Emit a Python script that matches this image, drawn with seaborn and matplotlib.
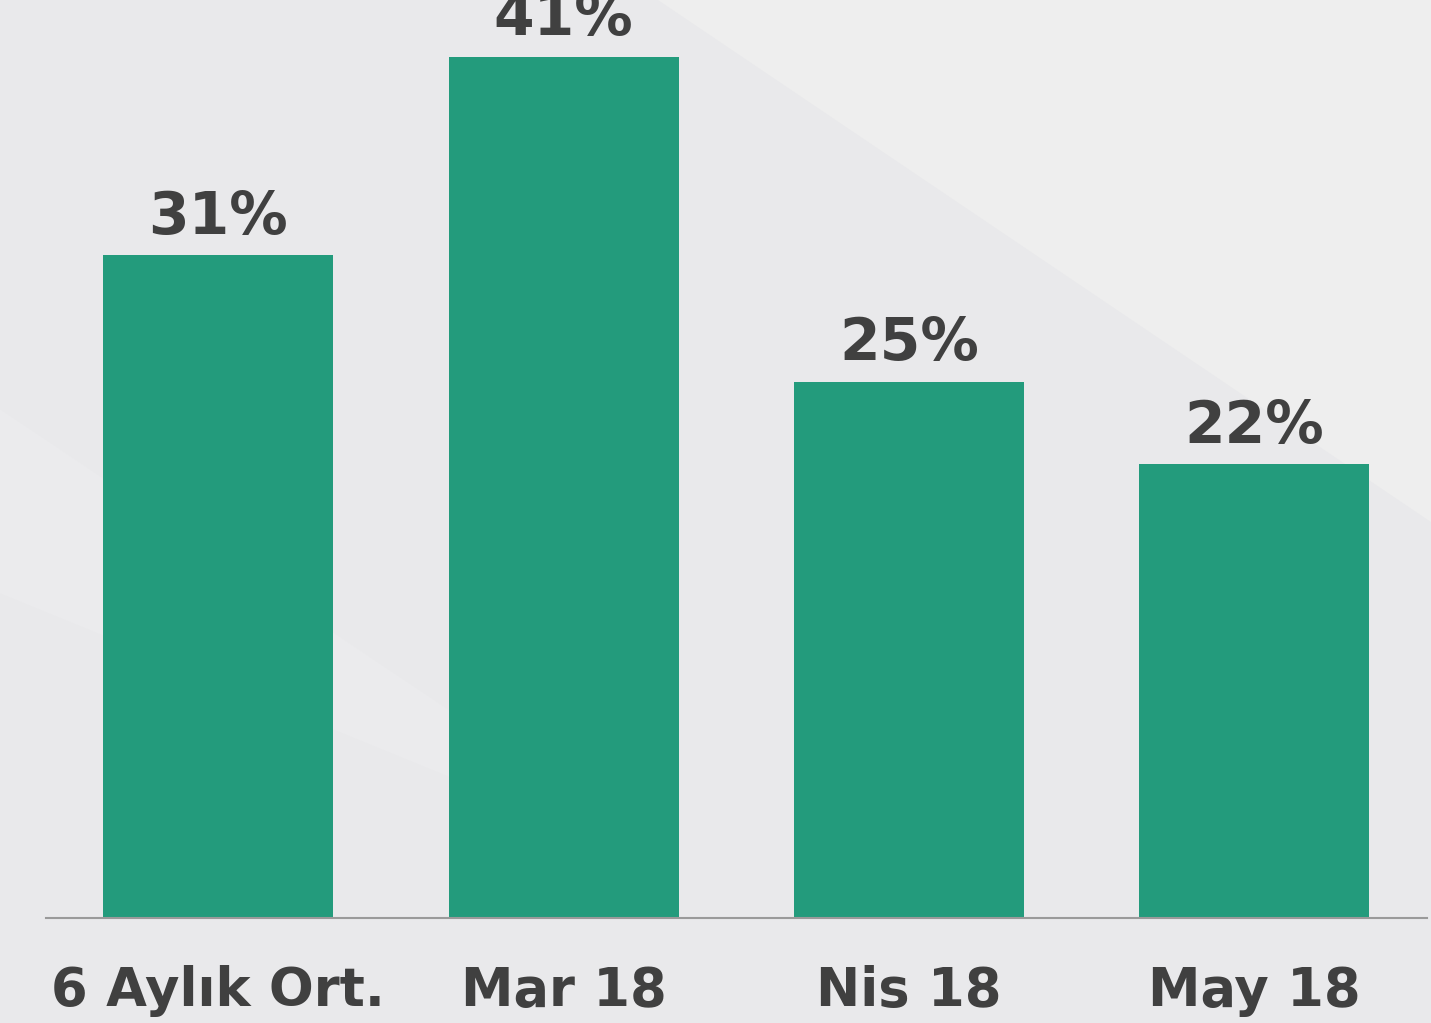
import numpy as np
import pandas as pd
import matplotlib
matplotlib.use("Agg")
import matplotlib.pyplot as plt
from matplotlib.patches import Polygon
import seaborn as sns

# dati
categorie = ["6 Aylık Ort.", "Mar 18", "Nis 18", "May 18"]
valori = [31.4, 40.8, 25.4, 21.5]
etichette = ["31%", "41%", "25%", "22%"]

df = pd.DataFrame({"periodo": categorie, "valore": valori})

sns.set_style("white")
plt.rcParams["font.family"] = ["DejaVu Sans"]

bg = "#e9e9eb"
verde = "#239b7c"
testo = "#404040"

fig = plt.figure(figsize=(14.31, 10.23), dpi=100, facecolor=bg)

# sfondo con fasce diagonali chiare
fig.patches.append(Polygon([[0.46, 1.0], [1.0, 1.0], [1.0, 0.49]], closed=True,
                           transform=fig.transFigure, facecolor="#eeeeee", edgecolor="none", zorder=-5))
fig.patches.append(Polygon([[0.0, 0.6], [0.0, 0.42], [0.35, 0.22], [0.32, 0.3]], closed=True,
                           transform=fig.transFigure, facecolor="#ebebed", edgecolor="none", zorder=-5))

ax = fig.add_axes([0.032, 0.1026, 0.965, 0.8974])
ax.set_facecolor("none")
ax.set_zorder(2)

sns.barplot(data=df, x="periodo", y="valore", color=verde, width=0.666,
            saturation=1, linewidth=0, edgecolor="none", ax=ax)

ax.bar_label(ax.containers[0], labels=etichette, padding=7,
             fontsize=42, fontweight="bold", color=testo)

ax.set_xlim(-0.5, 3.5)
ax.set_ylim(0, 43.5)
ax.set_xlabel("")
ax.set_ylabel("")
ax.set_yticks([])
for s in ["top", "right", "left"]:
    ax.spines[s].set_visible(False)
ax.spines["bottom"].set_color("#9a9a9a")
ax.spines["bottom"].set_linewidth(1.5)
ax.tick_params(axis="x", length=0, pad=34, labelsize=38, labelcolor=testo)
for t in ax.get_xticklabels():
    t.set_fontweight("bold")

fig.savefig("out.png", dpi=100, facecolor=bg)
